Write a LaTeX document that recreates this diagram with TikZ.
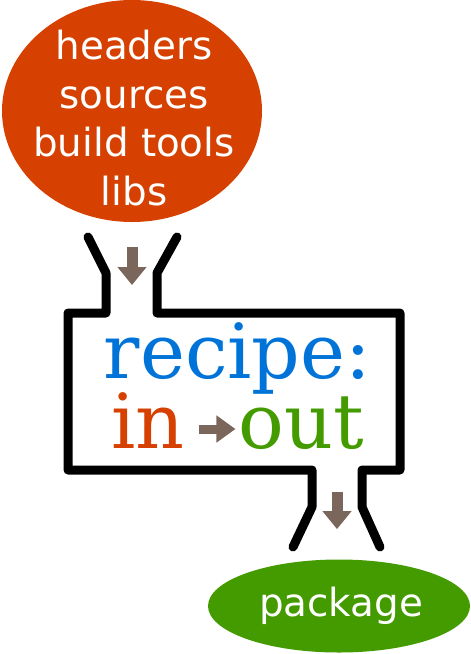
\documentclass[tikz,border=0pt]{standalone}
\usepackage{fontspec}
\setmainfont{DejaVu Serif}
\setsansfont{DejaVu Sans}
\usepackage{xcolor}
\usetikzlibrary{shapes.geometric, arrows.meta}
\definecolor{inred}{RGB}{214,64,0}
\definecolor{outgreen}{RGB}{67,155,0}
\definecolor{recipeblue}{RGB}{0,115,217}
\definecolor{flowbrown}{RGB}{123,102,92}

\begin{document}
\begin{tikzpicture}[x=0.5pt, y=-0.5pt,
  blob/.style={ellipse, inner sep=0pt},
  whitetext/.style={text=white, align=center, inner sep=0pt, font=\sffamily\fontsize{19.4}{24.2}\selectfont},
  bigword/.style={anchor=base, inner sep=0pt, font=\fontsize{38}{40}\selectfont},
  funnel/.style={line width=4.5pt, line cap=round, line join=round},
  flow/.style={flowbrown, line width=5.5pt, -{Triangle[length=9pt, width=14pt]}}]
\useasboundingbox (0,0) rectangle (471,654);
% inputs
\node[blob, fill=inred, minimum width=130pt, minimum height=111pt] (src) at (132,111) {};
\node[whitetext] (srclist) at (134,118) {headers\\sources\\build tools\\libs};
% the recipe box with its two funnels
\draw[funnel] (88,237) -- (106,273) -- (106,313) -- (68,313) -- (68,470) -- (312,470) -- (312,507) -- (293,547);
\draw[funnel] (177,237) -- (157,273) -- (157,313) -- (400,313) -- (400,470) -- (362,470) -- (362,507) -- (380,547);
\node[bigword, text=recipeblue] (recipe) at (237.5,378) {recipe:};
\node[bigword, text=inred] (in) at (148,448) {in};
\node[bigword, text=outgreen] (out) at (301.5,448) {out};
% output
\node[blob, fill=outgreen, minimum width=131pt, minimum height=46.5pt] (pkg) at (339,606) {};
\node[whitetext] (pkgname) at (341,606) {package};
% arrows
\coordinate (inlet) at (132,285);
\coordinate (outlet) at (337,492);
\draw[flow] (src.south) ++(0,25) -- (inlet);
\draw[flow] (outlet) -- ([yshift=15pt]pkg.north -| outlet);
\draw[flow, line width=4.5pt, -{Triangle[length=9.5pt, width=13pt]}] ([xshift=7pt, yshift=9.5pt]in.base east) -- ([xshift=-1.5pt, yshift=9.5pt]out.base west);
\end{tikzpicture}
\end{document}
